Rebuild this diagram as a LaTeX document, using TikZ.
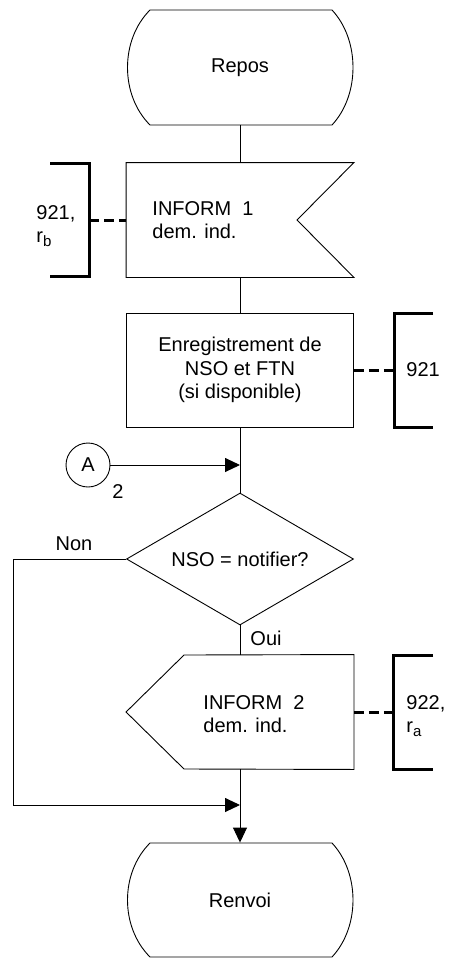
\documentclass[tikz,border=0pt]{standalone}
\usepackage{fontspec}
\setmainfont{Liberation Sans}
\usetikzlibrary{arrows.meta,shapes.geometric}
\tikzset{
  thin line/.style={line width=0.9pt},
  box/.style={minimum width=227pt, minimum height=114pt, inner sep=0pt},
  txt/.style={inner sep=0pt, align=left},
  brk/.style={line width=3pt, line join=miter},
  dsh/.style={line width=3pt, dash pattern=on 10pt off 5pt},
  arr/.style={thin line, -{Triangle[length=15pt,width=14pt]}},
  sub/.style={}
}
\newcommand{\mysub}[1]{\raisebox{-4pt}{\fontsize{15}{15}\selectfont #1}}
\begin{document}
\begin{tikzpicture}[x=1pt,y=-1pt, font=\fontsize{20}{23.5}\selectfont, thin line]
\useasboundingbox (0,0) rectangle (449,958);

% Repos
\node[box] (repos) at (240,67.5) {Repos};
\draw (150,10) -- (332,10) .. controls (360,40) and (360,95) .. (332,125)
      -- (150,125) .. controls (120,95) and (120,40) .. (150,10) -- cycle;

% INFORM 1
\node[box] (inf1) at (240,220) {};
\draw (inf1.north west) -- (inf1.north east) -- (297,220) -- (inf1.south east) -- (inf1.south west) -- cycle;
\node[txt, anchor=west] (inf1t) at (152,220) {INFORM\ \ 1\\dem. ind.};
\draw[brk] (50,163) -- (89,163) -- (89,276) -- (50,276);
\coordinate (b1) at (89,220);
\draw[dsh] (b1) -- (inf1.west);
\node[txt, anchor=west] (b1t) at (36,226) {921,\\r\mysub{b}};

% Enregistrement
\node[box, draw, align=center] (enr) at (240,370) {Enregistrement de\\NSO et FTN\\(si disponible)};
\draw[brk] (433,313) -- (394,313) -- (394,427) -- (433,427);
\coordinate (b2) at (394,370);
\draw[dsh] (enr.east) -- (b2);
\node[txt, anchor=west] (b2t) at (406,370) {921};

\draw (repos.south) -- (inf1.north);
\draw (inf1.south) -- (enr.south |- enr.north);

% connector A
\coordinate (m1) at (240,465);
\node[circle, draw, minimum size=44pt, inner sep=0pt] (A) at (88,465) {A};
\node[txt] (A2) at (118,492) {2};
\draw[arr] (A) -- (m1);

% decision
\node[diamond, draw, minimum width=227pt, minimum height=132pt, inner sep=0pt, aspect=1.72] (dec) at (240,559) {NSO = notifier?};
\draw (enr.south) -- (dec.north);
\node[txt] (non) at (74,544) {Non};
\node[txt, anchor=west] (oui) at (250,638) {Oui};

% INFORM 2
\node[box] (inf2) at (240,712) {};
\draw (184,655) -- (inf2.north east) -- (inf2.south east) -- (184,769) -- (inf2.west) -- cycle;
\node[txt, anchor=west] (inf2t) at (203,714) {INFORM\ \ 2\\dem. ind.};
\draw[brk] (433,655) -- (393,655) -- (393,769) -- (433,769);
\coordinate (b3) at (393,712);
\draw[dsh] (inf2.east) -- (b3);
\node[txt, anchor=west] (b3t) at (406,716) {922,\\r\mysub{a}};
\draw (dec.south) -- (inf2.north);

% Renvoi
\node[box] (renvoi) at (240,900) {Renvoi};
\draw (150,843) -- (332,843) .. controls (360,873) and (360,927) .. (332,957)
      -- (150,957) .. controls (120,927) and (120,873) .. (150,843) -- cycle;

\coordinate (m2) at (240,805);
\coordinate (nl) at (13,559);
\draw[arr] (dec.west) -- (nl) |- (m2);
\draw (inf2.south) -- (m2);
\draw[arr] (m2) -- (renvoi.north);
\end{tikzpicture}
\end{document}
